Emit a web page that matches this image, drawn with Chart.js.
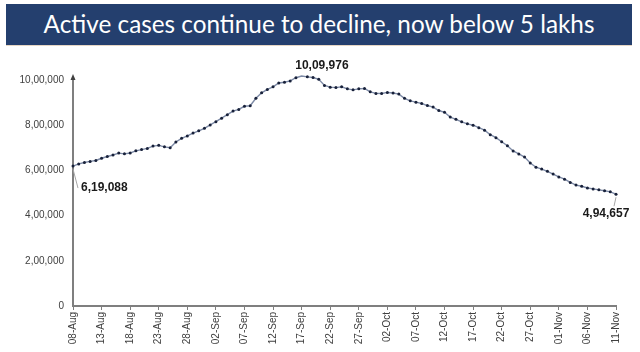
<!DOCTYPE html>
<html lang="en">
<head>
    <meta charset="UTF-8">
    <title>Active cases continue to decline</title>
    <script src="https://cdn.jsdelivr.net/npm/chart.js"></script>
    <style>
        html, body { margin: 0; padding: 0; background: #fff; }
        body { width: 640px; height: 352px; position: relative; overflow: hidden; }
        .banner {
            position: absolute; left: 6px; top: 4px; width: 626px; height: 41px;
            background: #243f6e; color: #fff; text-align: center;
            font-family: Lato, "Open Sans", sans-serif; font-size: 24.3px; line-height: 40px;
            border-bottom: 1px solid #e6d6c4;
        }
        .chart-box { position: absolute; left: 0; top: 0; width: 640px; height: 352px; }
    </style>
</head>
<body>
    <div class="chart-box"><canvas id="casesChart"></canvas></div>
    <div class="banner">Active cases continue to decline, now below 5 lakhs</div>

    <script>
        // daily labels 08-Aug .. 11-Nov
        const monthNames = ['Aug', 'Sep', 'Oct', 'Nov'];
        const monthDays = [[8, 31], [1, 30], [1, 31], [1, 11]];
        const dateLabels = [];
        monthDays.forEach((r, m) => {
            for (let d = r[0]; d <= r[1]; d++) dateLabels.push(String(d).padStart(2, '0') + '-' + monthNames[m]);
        });

        // active cases
        const activeCases = [
            // Aug 8 - Aug 31
            619088, 628747, 634945, 639929, 643948, 653622, 661595, 668220, 676514, 673166,
            676900, 686395, 692028, 697330, 707668, 710771, 704348, 700000, 725991, 742023,
            752424, 765302, 775000, 785996,
            // Sep
            801282, 815538, 831124, 846395, 862320, 870000, 883697, 886000, 919018, 943480,
            958316, 970000, 986598, 990061, 995933, 1009976, 1017754, 1013964, 1010824, 1003299,
            975861, 968377, 966382, 970116, 960969, 956402, 960969, 962640, 947576, 940705,
            // Oct
            940441, 944996, 942217, 937625, 919023, 907883, 902000, 896000, 887000, 880000,
            865000, 857000, 836000, 826000, 815000, 806000, 800000, 789000, 778000, 758000,
            745000, 727000, 709000, 686000, 673000, 659000, 633000, 614000, 606000, 596000,
            584000,
            // Nov 1 - Nov 11
            571000, 561000, 547000, 535000, 530000, 522000, 518000, 514000, 510000, 505000,
            494657
        ];

        const yMin = 0;
        const yMax = 1000000;
        const yStep = 200000;
        const labelEvery = 5;
        const calloutIndexes = [0, 39, 95];

        function inr(n) {
            const s = String(Math.round(n));
            if (s.length <= 3) return s;
            const rest = s.slice(0, -3).replace(/\B(?=(\d{2})+(?!\d))/g, ',');
            return rest + ',' + s.slice(-3);
        }

        // value labels with small leader lines, placed from the point positions
        const callouts = {
            id: 'callouts',
            afterDatasetsDraw(chart) {
                const ctx = chart.ctx;
                const pts = chart.getDatasetMeta(0).data;
                const offs = { 0: [8, 22, 'left'], 39: [26, -12, 'center'], 95: [-10, 19, 'center'] };
                ctx.save();
                ctx.font = 'bold 12px "Liberation Sans", Arial, sans-serif';
                ctx.fillStyle = '#1a1a1a';
                ctx.textBaseline = 'middle';
                calloutIndexes.forEach(i => {
                    const p = pts[i];
                    const o = offs[i];
                    const tx = p.x + o[0], ty = p.y + o[1];
                    if (i !== 39) {
                        ctx.strokeStyle = '#a6a6a6';
                        ctx.lineWidth = 1;
                        ctx.beginPath();
                        ctx.moveTo(p.x, p.y + 3);
                        ctx.lineTo(i === 0 ? tx - 3 : p.x - 2, i === 0 ? ty : ty - 7);
                        ctx.stroke();
                    }
                    ctx.textAlign = o[2];
                    ctx.fillText(inr(activeCases[i]), tx, ty);
                });
                // arrow head on the value axis
                const ca = chart.chartArea;
                ctx.fillStyle = '#404040';
                ctx.beginPath();
                ctx.moveTo(ca.left, ca.top - 6);
                ctx.lineTo(ca.left - 2.5, ca.top);
                ctx.lineTo(ca.left + 2.5, ca.top);
                ctx.closePath();
                ctx.fill();
                ctx.restore();
            }
        };

        const chart = new Chart(document.getElementById('casesChart'), {
            type: 'line',
            data: {
                labels: dateLabels,
                datasets: [{
                    data: activeCases,
                    borderColor: '#7d8aa6',
                    borderWidth: 1.4,
                    pointRadius: 1.5,
                    pointBackgroundColor: '#18213a',
                    pointBorderWidth: 0,
                    tension: 0,
                    clip: false
                }]
            },
            options: {
                responsive: true,
                maintainAspectRatio: false,
                animation: false,
                layout: { padding: { top: 80, right: 24, left: 0, bottom: 0 } },
                plugins: {
                    legend: { display: false },
                    tooltip: { enabled: false }
                },
                scales: {
                    x: {
                        afterBuildTicks: s => { s.ticks = s.ticks.filter(t => t.value % labelEvery === 0); },
                        afterFit: s => { s.height = 46; },
                        grid: { drawOnChartArea: false, tickLength: 4, color: '#7f7f7f' },
                        border: { color: '#7f7f7f', width: 2 },
                        ticks: {
                            autoSkip: false, maxRotation: 90, minRotation: 90, padding: 2,
                            color: '#404040', font: { family: '"Liberation Sans", Arial, sans-serif', size: 10 }
                        }
                    },
                    y: {
                        min: yMin, max: yMax,
                        afterFit: s => { s.width = 73; },
                        grid: { display: true, drawOnChartArea: false, drawTicks: false },
                        border: { color: '#7f7f7f', width: 2 },
                        ticks: {
                            stepSize: yStep, padding: 9, callback: v => inr(v),
                            color: '#404040', font: { family: '"Liberation Sans", Arial, sans-serif', size: 10 }
                        }
                    }
                }
            },
            plugins: [callouts]
        });
    </script>
</body>
</html>
